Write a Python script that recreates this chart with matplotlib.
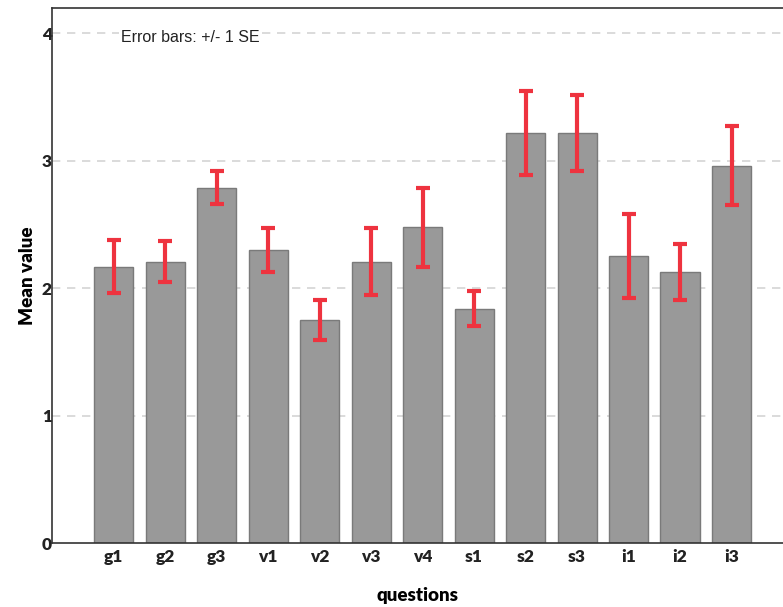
import matplotlib.pyplot as plt
import numpy as np

# data
questions = ['g1', 'g2', 'g3', 'v1', 'v2', 'v3', 'v4', 's1', 's2', 's3', 'i1', 'i2', 'i3']
means = [2.17, 2.21, 2.79, 2.30, 1.75, 2.21, 2.48, 1.84, 3.22, 3.22, 2.25, 2.13, 2.96]
se = [0.21, 0.16, 0.13, 0.17, 0.16, 0.26, 0.31, 0.14, 0.33, 0.30, 0.33, 0.22, 0.31]

fig = plt.figure(figsize=(7.83, 6.07), dpi=100, facecolor='white')
ax = fig.add_axes([0.0664, 0.1054, 0.9336, 0.8814])

x = np.arange(len(questions))
ax.bar(x, means, width=0.76, color='#999999', edgecolor='#7a7a7a', linewidth=1.0, zorder=2)
ax.errorbar(x, means, yerr=se, fmt='none', ecolor='#ee333f', elinewidth=3.0,
            capsize=5, capthick=3.0, zorder=3)

ax.set_xlim(-1.2, 13.0)
ax.set_ylim(0, 4.2)
ax.set_yticks([0, 1, 2, 3, 4])
ax.set_xticks(x)
ax.set_xticklabels(questions)

for v in [1, 2, 3, 4]:
    ax.axhline(v, color='#d4d4d4', linestyle=(0, (5, 4)), linewidth=1.2, zorder=1)

ax.tick_params(axis='both', length=0, labelsize=12.5)
ax.tick_params(axis='y', pad=0)
ax.tick_params(axis='x', pad=4)
for lbl in ax.get_xticklabels() + ax.get_yticklabels():
    lbl.set_fontfamily('Lato')
    lbl.set_fontweight('heavy')
    lbl.set_color('#222222')

ax.set_ylabel('Mean value', fontfamily='Lato', fontweight='heavy', fontsize=13.5, labelpad=4)
ax.set_xlabel('questions', fontfamily='Lato', fontweight='heavy', fontsize=13.5, labelpad=16)

ax.spines['right'].set_visible(False)
for s in ['left', 'top', 'bottom']:
    ax.spines[s].set_color('#333333')
    ax.spines[s].set_linewidth(1.2)

ax.text(0.094, 0.944, 'Error bars: +/- 1 SE', transform=ax.transAxes,
        fontfamily='Liberation Sans', fontsize=11.5, color='#222222',
        ha='left', va='center', zorder=4,
        bbox=dict(facecolor='white', edgecolor='none', pad=1))

fig.savefig('out.png', dpi=100)
